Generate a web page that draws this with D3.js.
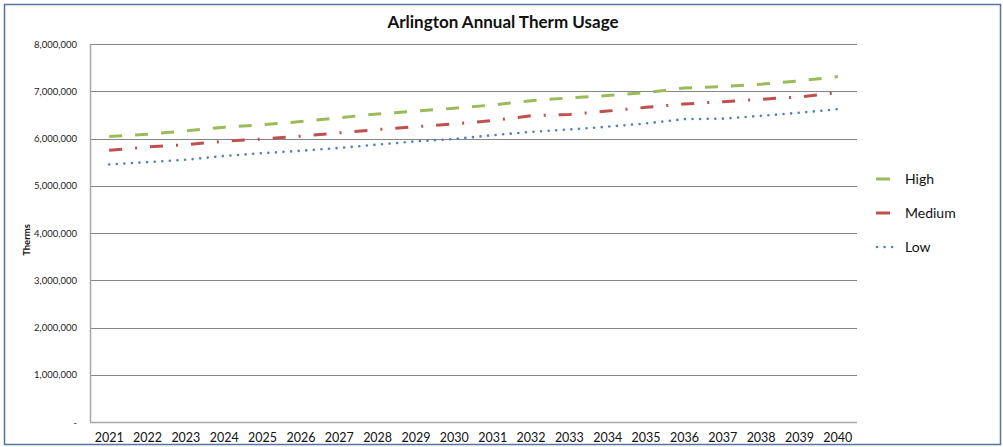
<!DOCTYPE html>
<html lang="en">
<head>
    <meta charset="UTF-8">
    <title>Arlington Annual Therm Usage</title>
    <style>
        body {
            margin: 0;
            padding: 0;
            background-color: #ffffff;
            font-family: Lato, "Open Sans", Arial, sans-serif;
        }
        svg { display: block; }
    </style>
</head>
<body>
    <svg width="1003" height="447"></svg>

    <script src="https://d3js.org/d3.v7.min.js"></script>

    <script>
        // data
        const years = ["2021", "2022", "2023", "2024", "2025", "2026", "2027", "2028", "2029", "2030",
                       "2031", "2032", "2033", "2034", "2035", "2036", "2037", "2038", "2039", "2040"];
        const high = [6040000, 6090000, 6160000, 6240000, 6290000, 6360000, 6440000, 6520000, 6580000, 6640000,
                      6710000, 6800000, 6860000, 6910000, 6970000, 7070000, 7100000, 7150000, 7220000, 7310000];
        const medium = [5750000, 5820000, 5870000, 5940000, 5990000, 6050000, 6120000, 6190000, 6250000, 6310000,
                        6380000, 6480000, 6510000, 6580000, 6660000, 6730000, 6780000, 6830000, 6880000, 6970000];
        const low = [5450000, 5500000, 5550000, 5630000, 5690000, 5740000, 5800000, 5870000, 5940000, 5990000,
                     6070000, 6140000, 6190000, 6250000, 6320000, 6410000, 6420000, 6480000, 6545000, 6620000];
        const yTicks = [0, 1000000, 2000000, 3000000, 4000000, 5000000, 6000000, 7000000, 8000000];

        const series = [
            { name: "High", values: high, color: "#9bbb59", dash: "13,13", cap: "butt", width: 3 },
            { name: "Medium", values: medium, color: "#c0504d", dash: "13,13,2,13", cap: "butt", width: 3 },
            { name: "Low", values: low, color: "#4f81bd", dash: "0,7.6", cap: "round", width: 2.6 }
        ];

        const width = 1003, height = 447;
        const plot = { left: 90, right: 857, top: 44, bottom: 422 };

        const svg = d3.select("svg");

        // outer chart frame
        svg.append("rect")
            .attr("x", 4.5).attr("y", 4.5)
            .attr("width", 996).attr("height", 440)
            .attr("fill", "#ffffff")
            .attr("stroke", "#5573a3")
            .attr("stroke-width", 1.5);

        const x = d3.scaleBand()
            .domain(years)
            .range([plot.left, plot.right]);

        const y = d3.scaleLinear()
            .domain([0, 8000000])
            .range([plot.bottom, plot.top]);

        // gridlines
        svg.append("g")
            .selectAll("line")
            .data(yTicks.slice(1))
            .enter()
            .append("line")
            .attr("x1", plot.left).attr("x2", plot.right)
            .attr("y1", d => Math.round(y(d)) + 0.5)
            .attr("y2", d => Math.round(y(d)) + 0.5)
            .attr("stroke", "#868686")
            .attr("stroke-width", 1);

        // axis lines
        svg.append("line")
            .attr("x1", plot.left + 0.5).attr("x2", plot.left + 0.5)
            .attr("y1", plot.top).attr("y2", plot.bottom)
            .attr("stroke", "#a6a6a6").attr("stroke-width", 1.5);
        svg.append("line")
            .attr("x1", plot.left).attr("x2", plot.right)
            .attr("y1", plot.bottom + 0.5).attr("y2", plot.bottom + 0.5)
            .attr("stroke", "#a6a6a6").attr("stroke-width", 1.5);

        // y axis labels
        const fmt = d3.format(",");
        const yAxis = d3.axisLeft(y)
            .tickValues(yTicks)
            .tickSize(0)
            .tickPadding(13)
            .tickFormat(d => d === 0 ? "-" : fmt(d));
        svg.append("g")
            .attr("transform", `translate(${plot.left},0)`)
            .call(yAxis)
            .call(g => g.select(".domain").remove())
            .call(g => g.selectAll("text")
                .attr("font-family", "Lato, sans-serif")
                .attr("font-size", "9.5px")
                .attr("fill", "#222"));

        // x axis labels
        const xAxis = d3.axisBottom(x).tickSize(0).tickPadding(11);
        svg.append("g")
            .attr("transform", `translate(0,${plot.bottom})`)
            .call(xAxis)
            .call(g => g.select(".domain").remove())
            .call(g => g.selectAll("text")
                .attr("font-family", "Lato, sans-serif")
                .attr("font-size", "12.5px")
                .attr("fill", "#111"));

        // lines
        const line = d3.line()
            .x((d, i) => x(years[i]) + x.bandwidth() / 2)
            .y(d => y(d));

        svg.append("g")
            .selectAll("path")
            .data(series)
            .enter()
            .append("path")
            .attr("d", d => line(d.values))
            .attr("fill", "none")
            .attr("stroke", d => d.color)
            .attr("stroke-width", d => d.width)
            .attr("stroke-dasharray", d => d.dash)
            .attr("stroke-linecap", d => d.cap);

        // title
        svg.append("text")
            .attr("x", 503).attr("y", 28)
            .attr("text-anchor", "middle")
            .attr("font-family", "Lato, sans-serif")
            .attr("font-weight", "bold")
            .attr("font-size", "17px")
            .attr("fill", "#111")
            .text("Arlington Annual Therm Usage");

        // y axis title
        svg.append("text")
            .attr("transform", "translate(30,240) rotate(-90)")
            .attr("text-anchor", "middle")
            .attr("font-family", "Lato, sans-serif")
            .attr("font-weight", "bold")
            .attr("font-size", "9.5px")
            .attr("fill", "#111")
            .text("Therms");

        // legend
        const legend = svg.append("g")
            .selectAll("g")
            .data(series)
            .enter()
            .append("g")
            .attr("transform", (d, i) => `translate(876,${179 + i * 34})`);

        legend.append("line")
            .attr("x1", d => d.cap === "round" ? 1 : 0)
            .attr("x2", d => d.cap === "round" ? 17 : 14)
            .attr("y1", 0).attr("y2", 0)
            .attr("stroke", d => d.color)
            .attr("stroke-width", d => d.width)
            .attr("stroke-dasharray", d => d.cap === "round" ? d.dash : null)
            .attr("stroke-linecap", d => d.cap);

        legend.append("text")
            .attr("x", 29).attr("y", 5)
            .attr("font-family", "Lato, sans-serif")
            .attr("font-size", "14px")
            .attr("fill", "#111")
            .text(d => d.name);
    </script>
</body>
</html>
